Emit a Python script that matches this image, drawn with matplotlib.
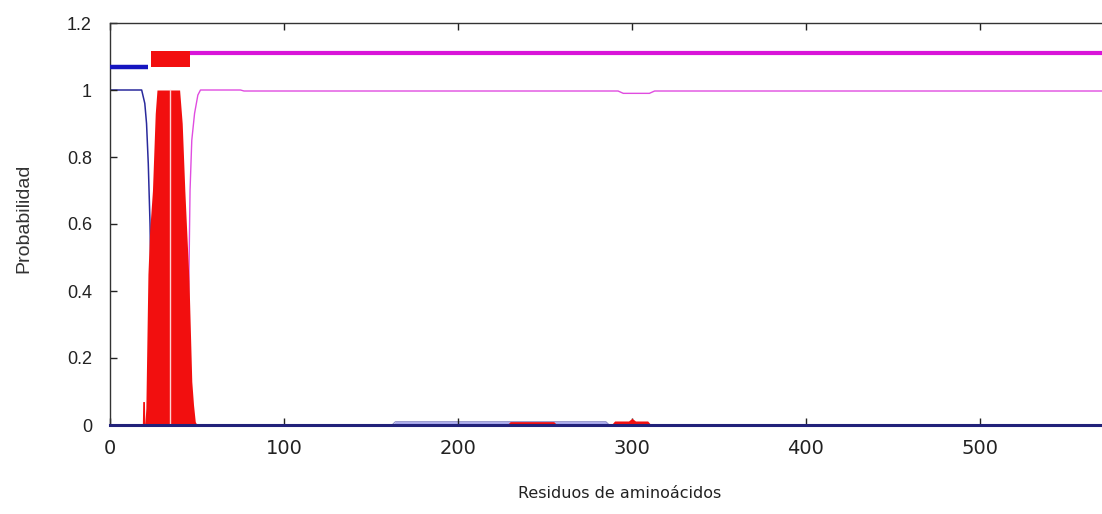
import matplotlib
matplotlib.use("Agg")
import matplotlib.pyplot as plt
import numpy as np

# ---- data ----
seq_len = 586

# topology (thick bars above the plot)
topo_labels = ["inside", "TMhelix", "outside"]
topo_start = [0, 23.5, 46]
topo_end = [22, 46, seq_len]

# transmembrane probability (red)
tm_x = [0, 18.6, 18.8, 19.8, 20.0, 20.6, 21.2, 21.8, 22.8, 24.4, 26, 27, 40, 41.5, 43, 45.4, 47, 48, 49, 50,
        228, 230, 255, 257, 288, 290, 298, 300, 302, 309, 311, seq_len]
tm_y = [0, 0, 0.07, 0.07, 0, 0.05, 0.25, 0.45, 0.58, 0.70, 0.93, 1.0, 1.0, 0.9, 0.7, 0.43, 0.13, 0.06, 0.01, 0,
        0, 0.01, 0.01, 0, 0, 0.012, 0.012, 0.02, 0.012, 0.012, 0, 0]
tm_gap = [34.5]

# inside probability (blue)
in_x = [0, 18.2, 20, 21, 22, 23, 24, 25, 26, 162, 164, 285, 287, seq_len]
in_y = [1.0, 1.0, 0.96, 0.9, 0.78, 0.6, 0.3, 0.03, 0, 0, 0.01, 0.01, 0, 0]

# outside probability (magenta)
out_x = [0, 44, 45, 46, 47, 48.6, 50.5, 52, 75, 77, 292, 295, 310, 313, seq_len]
out_y = [0, 0, 0.3, 0.7, 0.85, 0.93, 0.985, 1.0, 1.0, 0.997, 0.997, 0.99, 0.99, 0.997, 0.997]

x_ticks = [0, 100, 200, 300, 400, 500]
y_ticks = [0, 0.2, 0.4, 0.6, 0.8, 1.0, 1.2]
y_ticklabels = ["0", "0.2", "0.4", "0.6", "0.8", "1", "1.2"]

# ---- figure ----
fig = plt.figure(figsize=(11.02, 5.14), dpi=100)
ax_w = seq_len * 1.74 / 1102
ax = fig.add_axes([110 / 1102, 89 / 514, ax_w, 402 / 514])

RED = "#f20f0f"
BLUE_THICK = "#1515c0"
BLUE_THIN = "#2a2a9c"
MAG_THICK = "#d914d9"
MAG_THIN = "#e04ce0"

# probability curves
ax.fill_between(tm_x, 0, tm_y, color=RED, linewidth=0, zorder=2)
for g in tm_gap:
    ax.plot([g, g], [0, 1.0], color="#ffd0d0", linewidth=1.0, zorder=3)
ax.plot(out_x, out_y, color=MAG_THIN, linewidth=1.0, zorder=1)
ix = np.array(in_x)
iy = np.array(in_y)
ax.fill_between(ix, 0, iy, where=ix > 100, color="#a9a9ee", linewidth=0, zorder=1)
ax.plot(ix[ix <= 100], iy[ix <= 100], color=BLUE_THIN, linewidth=1.1, zorder=1)
ax.plot(ix[ix >= 26], iy[ix >= 26], color="#8a8ac8", linewidth=0.7, zorder=1)

# topology bars
for lab, s, e in zip(topo_labels, topo_start, topo_end):
    if lab == "inside":
        ax.plot([s, e], [1.07, 1.07], color=BLUE_THICK, linewidth=3.2, solid_capstyle="butt", zorder=3)
    elif lab == "outside":
        ax.plot([s, e], [1.11, 1.11], color=MAG_THICK, linewidth=3.0, solid_capstyle="butt", zorder=3)
    else:
        ax.fill_between([s, e], 1.068, 1.116, color=RED, linewidth=0, zorder=3)

ax.set_xlim(0, seq_len)
ax.set_ylim(0, 1.2)

ax.set_xticks(x_ticks)
ax.set_xticklabels([str(v) for v in x_ticks], fontsize=14, family="DejaVu Sans", color="#222222")
ax.set_yticks(y_ticks)
ax.set_yticklabels(y_ticklabels, fontsize=13, family="Liberation Sans", color="#222222")

ax.tick_params(axis="x", direction="in", length=5, width=1, top=True, pad=10, color="#222222")
ax.tick_params(axis="y", direction="in", length=5, width=1, right=False, pad=13, color="#222222")

for sp in ax.spines.values():
    sp.set_color("#333333")
    sp.set_linewidth(1.0)
ax.spines["bottom"].set_color("#22227a")
ax.spines["bottom"].set_linewidth(2.2)
ax.spines["bottom"].set_zorder(5)

ax.set_xlabel("Residuos de aminoácidos", fontsize=11.5, family="DejaVu Sans", color="#222222", labelpad=20)
ax.set_ylabel("Probabilidad", fontsize=14, family="Liberation Sans", color="#333333")
ax.yaxis.set_label_coords((32 - 110) / (ax_w * 1102), (425 - 218) / 402)

fig.savefig("out.png", dpi=100)
